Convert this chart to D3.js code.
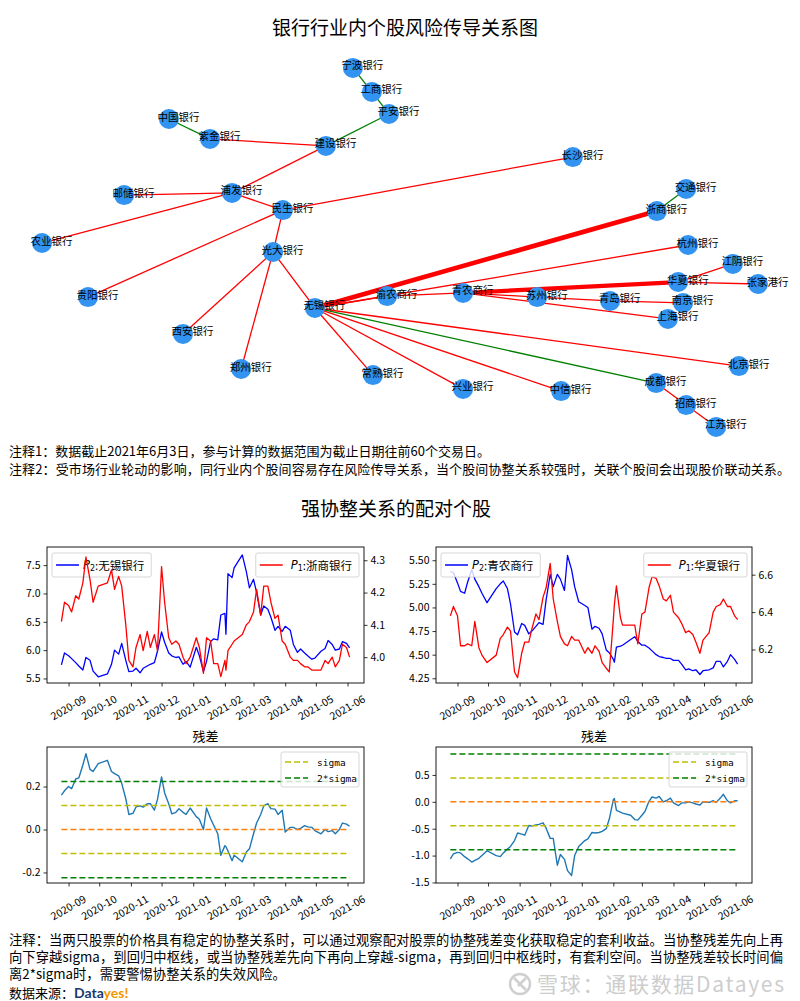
<!DOCTYPE html>
<html>
<head>
<meta charset="utf-8">
<script src="https://cdn.jsdelivr.net/npm/d3@7"></script>
<style>
body { margin: 0; background: #fff; }
svg text { font-family: "Noto Sans CJK SC", "Noto Sans", sans-serif; }
</style>
</head>
<body>
<svg id="chart" width="800" height="1001"></svg>
<script>
// ---- network data (layout coordinates, spring-layout style in [-1,1]) ----
const nodeNames = ["宁波银行","工商银行","平安银行","中国银行","紫金银行","建设银行","邮储银行","浦发银行","民生银行","农业银行",
  "光大银行","贵阳银行","无锡银行","西安银行","郑州银行","常熟银行","渝农商行","长沙银行","交通银行","浙商银行",
  "杭州银行","江阴银行","华夏银行","张家港行","青农商行","苏州银行","青岛银行","南京银行","上海银行","北京银行",
  "兴业银行","中信银行","成都银行","招商银行","江苏银行"];
const nodeX = [-0.124,-0.074,-0.029,-0.608,-0.500,-0.195,-0.726,-0.442,-0.308,-0.942,
  -0.334,-0.821,-0.224,-0.571,-0.418,-0.071,-0.034,0.455,0.753,0.676,
  0.758,0.876,0.732,0.942,0.166,0.361,0.553,0.745,0.705,0.892,
  0.166,0.424,0.674,0.753,0.832];
const nodeY = [0.908,0.785,0.672,0.646,0.544,0.508,0.256,0.267,0.179,0.010,
  -0.036,-0.267,-0.323,-0.456,-0.636,-0.667,-0.262,0.451,0.287,0.174,
  0.000,-0.097,-0.190,-0.200,-0.246,-0.267,-0.287,-0.297,-0.379,-0.621,
  -0.738,-0.749,-0.708,-0.821,-0.933];
// [from, to, type (1 red / 2 green), weight]
const edges = [
  ["宁波银行","工商银行",2,1],["工商银行","平安银行",2,1],["平安银行","建设银行",2,1],["中国银行","紫金银行",2,1],
  ["紫金银行","建设银行",1,1],["建设银行","浦发银行",1,1],["邮储银行","浦发银行",1,1],["浦发银行","农业银行",1,1],
  ["浦发银行","民生银行",1,1],["民生银行","长沙银行",1,1],["民生银行","贵阳银行",1,1],["民生银行","光大银行",1,1],
  ["光大银行","西安银行",1,1],["光大银行","郑州银行",1,1],["光大银行","无锡银行",1,1],["无锡银行","浙商银行",1,3.6],
  ["浙商银行","交通银行",2,1],["无锡银行","杭州银行",1,1],["无锡银行","渝农商行",1,1],["渝农商行","青农商行",1,1],
  ["青农商行","华夏银行",1,3.2],["华夏银行","江阴银行",1,1],["华夏银行","张家港行",1,1],["青农商行","苏州银行",1,1],
  ["苏州银行","青岛银行",1,1],["青岛银行","南京银行",1,1],["青农商行","上海银行",1,1],["无锡银行","北京银行",1,1],
  ["无锡银行","成都银行",2,1],["无锡银行","中信银行",1,1],["无锡银行","兴业银行",1,1],["无锡银行","常熟银行",1,1],
  ["成都银行","招商银行",1,1],["招商银行","江苏银行",1,1]
];

// ---- time series data ----
const dates = ["2020-08-25","2020-08-28","2020-09-01","2020-09-04","2020-09-08","2020-09-11","2020-09-15","2020-09-18","2020-09-22","2020-09-25","2020-09-30",
  "2020-10-09","2020-10-13","2020-10-16","2020-10-20","2020-10-23","2020-10-27","2020-10-30",
  "2020-11-03","2020-11-06","2020-11-10","2020-11-13","2020-11-17","2020-11-20","2020-11-24","2020-11-27",
  "2020-12-01","2020-12-04","2020-12-08","2020-12-11","2020-12-15","2020-12-18","2020-12-22","2020-12-25","2020-12-29",
  "2021-01-04","2021-01-07","2021-01-11","2021-01-14","2021-01-18","2021-01-21","2021-01-25","2021-01-28",
  "2021-02-01","2021-02-02","2021-02-04","2021-02-08","2021-02-10","2021-02-18","2021-02-22","2021-02-25",
  "2021-03-01","2021-03-04","2021-03-08","2021-03-11","2021-03-15","2021-03-18","2021-03-22","2021-03-25","2021-03-29",
  "2021-04-01","2021-04-06","2021-04-09","2021-04-13","2021-04-16","2021-04-20","2021-04-23","2021-04-27","2021-04-30",
  "2021-05-06","2021-05-10","2021-05-13","2021-05-17","2021-05-20","2021-05-24","2021-05-27","2021-05-31","2021-06-03"];
const monthTicks = ["2020-09","2020-10","2020-11","2020-12","2021-01","2021-02","2021-03","2021-04","2021-05","2021-06"];

const wuxi = [5.74,5.95,5.90,5.85,5.78,5.72,5.65,5.87,5.82,5.63,5.53,
  5.58,5.75,6.00,5.93,6.12,5.82,5.62,
  5.63,5.68,5.60,5.68,5.72,5.75,5.78,5.98,
  6.32,6.14,5.95,5.90,5.87,5.88,5.75,5.80,5.70,
  6.05,5.90,5.62,5.80,6.15,6.20,6.18,6.62,
  6.65,6.28,7.35,7.28,7.45,7.68,7.38,7.10,
  7.25,7.02,6.62,6.78,6.72,6.58,6.35,6.42,6.33,
  6.42,6.35,6.10,5.96,6.02,5.95,5.90,5.84,5.86,
  5.98,6.03,6.17,6.10,6.00,6.02,6.15,6.12,6.04];
const zheshang = [4.11,4.17,4.16,4.14,4.19,4.18,4.23,4.31,4.24,4.17,4.22,
  4.23,4.27,4.21,4.25,4.22,4.10,3.99,
  3.97,4.03,4.07,4.02,4.08,4.03,4.07,4.02,
  4.28,4.17,4.06,4.04,4.05,4.04,4.00,3.98,4.00,
  4.06,4.03,3.95,4.06,4.05,3.98,3.98,3.94,
  3.99,3.96,4.02,4.04,4.05,4.07,4.10,4.11,
  4.14,4.21,4.13,4.22,4.22,4.17,4.12,4.13,4.05,
  4.04,4.00,3.99,3.99,3.98,3.97,3.97,3.96,3.96,
  3.96,3.99,3.98,4.00,3.97,3.99,4.04,4.03,4.00];
const qingnong = [5.38,5.37,5.26,5.17,5.15,5.27,5.40,5.30,5.22,5.15,5.05,
  5.20,5.25,5.28,5.20,5.04,4.74,4.71,
  4.83,4.81,4.72,4.75,4.80,4.84,4.82,5.08,
  5.35,5.22,5.35,5.30,5.18,5.55,5.40,5.22,5.06,
  5.02,5.00,4.77,4.80,4.78,4.72,4.55,4.52,
  4.45,4.42,4.58,4.59,4.60,4.66,4.69,4.64,
  4.60,4.60,4.57,4.54,4.50,4.48,4.47,4.46,4.46,
  4.44,4.44,4.40,4.34,4.35,4.33,4.34,4.29,4.33,
  4.34,4.36,4.43,4.43,4.37,4.43,4.50,4.45,4.40];
const huaxia = [6.38,6.43,6.38,6.22,6.22,6.23,6.22,6.35,6.21,6.17,6.13,
  6.17,6.26,6.28,6.32,6.30,6.08,6.05,
  6.18,6.24,6.24,6.31,6.39,6.36,6.48,6.53,
  6.66,6.47,6.35,6.27,6.23,6.22,6.27,6.25,6.25,
  6.18,6.21,6.18,6.22,6.19,6.13,6.10,6.08,
  6.36,6.44,6.54,6.37,6.33,6.33,6.33,6.23,
  6.39,6.40,6.53,6.59,6.58,6.54,6.47,6.46,6.49,
  6.40,6.37,6.34,6.29,6.30,6.28,6.24,6.18,6.25,
  6.29,6.40,6.43,6.44,6.47,6.43,6.43,6.38,6.36];
const resid1 = [0.16,0.18,0.20,0.19,0.235,0.24,0.30,0.353,0.28,0.27,0.307,
  0.322,0.27,0.26,0.25,0.215,0.143,0.07,
  0.075,0.105,0.11,0.104,0.12,0.12,0.09,0.14,
  0.245,0.17,0.12,0.073,0.08,0.097,0.08,0.07,0.10,
  0.06,0.048,0.0,0.10,0.05,0.02,-0.02,-0.12,
  -0.075,-0.08,-0.10,-0.145,-0.12,-0.15,-0.105,-0.09,
  -0.02,0.03,0.07,0.11,0.12,0.097,0.095,0.07,0.09,
  -0.012,0.01,0.01,0.0,0.005,0.018,0.012,0.01,-0.005,
  -0.02,0.0,-0.01,-0.005,-0.02,0.0,0.03,0.025,0.015];
const resid2 = [-1.06,-0.97,-0.94,-0.95,-1.02,-1.06,-1.12,-1.09,-1.05,-1.00,-0.91,
  -1.00,-1.02,-0.95,-0.88,-0.83,-0.72,-0.58,
  -0.60,-0.62,-0.44,-0.45,-0.43,-0.42,-0.39,-0.49,
  -0.68,-0.68,-1.18,-0.98,-1.07,-1.28,-1.37,-1.00,-0.83,
  -0.72,-0.69,-0.57,-0.58,-0.57,-0.55,-0.50,-0.32,
  0.04,0.06,-0.16,-0.19,-0.21,-0.25,-0.33,-0.34,
  -0.25,-0.18,0.01,0.09,0.07,0.10,0.00,0.02,0.07,
  -0.02,-0.07,-0.02,-0.02,0.00,-0.02,-0.04,-0.06,0.00,
  -0.01,0.02,-0.01,0.07,0.14,0.02,-0.02,0.02,0.02];
const sigma1 = 0.112;
const sigma2 = 0.445;

const CJK = '"Noto Sans CJK SC", "Noto Sans", sans-serif';
const svg = d3.select("#chart");

// ---------- titles and notes ----------
svg.append("text").attr("x", 405).attr("y", 35).attr("text-anchor", "middle")
  .style("font-size", "19px").text("银行行业内个股风险传导关系图");
svg.append("text").attr("x", 9).attr("y", 456).style("font-size", "13px")
  .text("注释1：数据截止2021年6月3日，参与计算的数据范围为截止日期往前60个交易日。");
svg.append("text").attr("x", 9).attr("y", 474).style("font-size", "13px")
  .attr("textLength", 781).attr("lengthAdjust", "spacing")
  .text("注释2：受市场行业轮动的影响，同行业内个股间容易存在风险传导关系，当个股间协整关系较强时，关联个股间会出现股价联动关系。");
svg.append("text").attr("x", 396).attr("y", 516).attr("text-anchor", "middle")
  .style("font-size", "19px").text("强协整关系的配对个股");

// ---------- network ----------
const nx = d3.scaleLinear().domain([-1, 1]).range([20, 780]);
const ny = d3.scaleLinear().domain([-1, 1]).range([440, 50]);
const edgeColor = d3.scaleOrdinal().domain([1, 2]).range(["#ff0000", "#008000"]);
const edgeWidth = d3.scaleLinear().domain([1, 4]).range([1.3, 5.2]);
const pos = new Map(nodeNames.map((n, i) => [n, [nx(nodeX[i]), ny(nodeY[i])]]));

const net = svg.append("g");
net.selectAll("line").data(edges).join("line")
  .attr("x1", d => pos.get(d[0])[0]).attr("y1", d => pos.get(d[0])[1])
  .attr("x2", d => pos.get(d[1])[0]).attr("y2", d => pos.get(d[1])[1])
  .attr("stroke", d => edgeColor(d[2])).attr("stroke-width", d => edgeWidth(d[3]));
net.selectAll("circle").data(nodeNames).join("circle")
  .attr("cx", d => pos.get(d)[0]).attr("cy", d => pos.get(d)[1]).attr("r", 10)
  .attr("fill", "#3393f0");
net.selectAll("text").data(nodeNames).join("text")
  .attr("x", d => pos.get(d)[0] + 9.5).attr("y", d => pos.get(d)[1] - 3)
  .attr("text-anchor", "middle").attr("dominant-baseline", "central")
  .style("font-size", "10.5px").attr("fill", "#000").text(d => d);

// ---------- shared time scale bits ----------
const T = dates.map(d3.timeParse("%Y-%m-%d"));
const tPad = (T[T.length - 1] - T[0]) * 0.05;
const xDomain = [new Date(+T[0] - tPad), new Date(+T[T.length - 1] + tPad)];
const monthDates = monthTicks.map(d3.timeParse("%Y-%m"));

function styleAxis(sel) {
  sel.select(".domain").remove();
  sel.selectAll(".tick line").attr("stroke", "#000").attr("stroke-width", 0.8);
  sel.selectAll(".tick text").attr("fill", "#000").style("font-family", CJK).style("font-size", "10.5px");
}

function xAxis(g, x, y1) {
  const ax = g.append("g").attr("transform", `translate(0,${y1})`)
    .call(d3.axisBottom(x).tickValues(monthDates).tickFormat((d, i) => monthTicks[i]).tickSize(3.5))
    .call(styleAxis);
  ax.selectAll(".tick text").attr("y", 0).attr("dy", null)
    .attr("transform", "translate(-1,24) rotate(-30)")
    .attr("text-anchor", "middle").attr("dominant-baseline", "central");
}

function frame(g, p) {
  g.append("rect").attr("x", p.x0).attr("y", p.y0).attr("width", p.x1 - p.x0).attr("height", p.y1 - p.y0)
    .attr("fill", "none").attr("stroke", "#000").attr("stroke-width", 0.9);
}

function priceLegend(g, p, color, sub, name, right) {
  const lg = g.append("g");
  const box = lg.append("rect").attr("y", p.y0 + 6).attr("height", 24).attr("rx", 2)
    .attr("fill", "#fff").attr("fill-opacity", 0.8).attr("stroke", "#cccccc").attr("stroke-width", 0.8);
  const dx = right ? 35 : 31;
  lg.append("line").attr("x1", 4).attr("x2", 27).attr("y1", p.y0 + 18).attr("y2", p.y0 + 18)
    .attr("stroke", color).attr("stroke-width", 1.5);
  const t = lg.append("text").attr("x", dx).attr("y", p.y0 + 18).attr("dominant-baseline", "central")
    .style("font-size", "11.5px");
  t.append("tspan").style("font-family", '"DejaVu Sans", sans-serif').style("font-style", "italic").text("P");
  t.append("tspan").attr("dy", 3).style("font-family", '"DejaVu Sans", sans-serif').style("font-size", "8px").text(sub);
  t.append("tspan").attr("dy", -3).text(":" + name);
  const w = dx + t.node().getComputedTextLength() + 7;
  box.attr("x", 0).attr("width", w);
  lg.attr("transform", `translate(${right ? p.x1 - 5 - w : p.x0 + 5},0)`);
}

function pricePanel(p) {
  const g = svg.append("g");
  const x = d3.scaleTime().domain(xDomain).range([p.x0, p.x1]);
  const yL = d3.scaleLinear().domain(p.domL).range([p.y1, p.y0]);
  const yR = d3.scaleLinear().domain(p.domR).range([p.y1, p.y0]);
  g.append("path").datum(p.valsL).attr("fill", "none").attr("stroke", "#0000ff").attr("stroke-width", 1.3)
    .attr("stroke-linejoin", "round")
    .attr("d", d3.line().x((d, i) => x(T[i])).y(d => yL(d)));
  priceLegend(g, p, "#0000ff", "2", p.nameL, false);
  g.append("path").datum(p.valsR).attr("fill", "none").attr("stroke", "#ff0000").attr("stroke-width", 1.3)
    .attr("stroke-linejoin", "round")
    .attr("d", d3.line().x((d, i) => x(T[i])).y(d => yR(d)));
  priceLegend(g, p, "#ff0000", "1", p.nameR, true);
  g.append("g").attr("transform", `translate(${p.x0},0)`)
    .call(d3.axisLeft(yL).tickValues(p.ticksL).tickFormat(d => d.toFixed(p.decL)).tickSize(3.5).tickPadding(3))
    .call(styleAxis);
  g.append("g").attr("transform", `translate(${p.x1},0)`)
    .call(d3.axisRight(yR).tickValues(p.ticksR).tickFormat(d => d.toFixed(1)).tickSize(3.5).tickPadding(3))
    .call(styleAxis);
  xAxis(g, x, p.y1);
  frame(g, p);
}

function residPanel(p) {
  const g = svg.append("g");
  const x = d3.scaleTime().domain(xDomain).range([p.x0, p.x1]);
  const y = d3.scaleLinear().domain(p.dom).range([p.y1, p.y0]);
  g.append("text").attr("x", (p.x0 + p.x1) / 2).attr("y", p.y0 - 6).attr("text-anchor", "middle")
    .style("font-size", "13px").text("残差");
  g.append("path").datum(p.vals).attr("fill", "none").attr("stroke", "#1f77b4").attr("stroke-width", 1.4)
    .attr("stroke-linejoin", "round")
    .attr("d", d3.line().x((d, i) => x(T[i])).y(d => y(d)));
  const levels = [
    { v: 0, c: "#ff7f0e" },
    { v: p.sigma, c: "#bfbf00" }, { v: -p.sigma, c: "#bfbf00" },
    { v: 2 * p.sigma, c: "#008000" }, { v: -2 * p.sigma, c: "#008000" }
  ];
  g.selectAll("line.lv").data(levels).join("line").attr("class", "lv")
    .attr("x1", x(T[0])).attr("x2", x(T[T.length - 1]))
    .attr("y1", d => y(d.v)).attr("y2", d => y(d.v))
    .attr("stroke", d => d.c).attr("stroke-width", 1.5).attr("stroke-dasharray", "6,3");
  // legend
  const bw = 78, bx = p.x1 - 5 - bw, by = p.y0 + 5;
  g.append("rect").attr("x", bx).attr("y", by).attr("width", bw).attr("height", 35).attr("rx", 2)
    .attr("fill", "#fff").attr("fill-opacity", 0.8).attr("stroke", "#cccccc").attr("stroke-width", 0.8);
  [["sigma", "#bfbf00"], ["2*sigma", "#008000"]].forEach((e, i) => {
    const cy = by + 10 + i * 16;
    g.append("line").attr("x1", bx + 4).attr("x2", bx + 27).attr("y1", cy).attr("y2", cy)
      .attr("stroke", e[1]).attr("stroke-width", 1.5).attr("stroke-dasharray", "6,3");
    g.append("text").attr("x", bx + 36).attr("y", cy).attr("dominant-baseline", "central")
      .style("font-family", '"DejaVu Sans Mono", monospace').style("font-size", "9.5px").text(e[0]);
  });
  g.append("g").attr("transform", `translate(${p.x0},0)`)
    .call(d3.axisLeft(y).tickValues(p.ticks).tickFormat(d => d.toFixed(1)).tickSize(3.5).tickPadding(3))
    .call(styleAxis);
  xAxis(g, x, p.y1);
  frame(g, p);
}

pricePanel({ x0: 47, x1: 364, y0: 547, y1: 683, valsL: wuxi, valsR: zheshang,
  domL: [5.42, 7.82], domR: [3.92, 4.341], ticksL: [5.5, 6.0, 6.5, 7.0, 7.5], decL: 1,
  ticksR: [4.0, 4.1, 4.2, 4.3], nameL: "无锡银行", nameR: "浙商银行" });
pricePanel({ x0: 436, x1: 752, y0: 547, y1: 683, valsL: qingnong, valsR: huaxia,
  domL: [4.20, 5.64], domR: [6.021, 6.748], ticksL: [4.25, 4.50, 4.75, 5.00, 5.25, 5.50], decL: 2,
  ticksR: [6.2, 6.4, 6.6], nameL: "青农商行", nameR: "华夏银行" });
residPanel({ x0: 47, x1: 364, y0: 747, y1: 883, vals: resid1, sigma: sigma1,
  dom: [-0.249, 0.384], ticks: [-0.2, 0.0, 0.2] });
residPanel({ x0: 436, x1: 752, y0: 747, y1: 883, vals: resid2, sigma: sigma2,
  dom: [-1.51, 1.02], ticks: [-1.5, -1.0, -0.5, 0.0, 0.5] });

// ---------- bottom notes ----------
const noteLines = [
  "注释：当两只股票的价格具有稳定的协整关系时，可以通过观察配对股票的协整残差变化获取稳定的套利收益。当协整残差先向上再",
  "向下穿越sigma，到回归中枢线，或当协整残差先向下再向上穿越-sigma，再到回归中枢线时，有套利空间。当协整残差较长时间偏",
  "离2*sigma时，需要警惕协整关系的失效风险。"
];
noteLines.forEach((s, i) => {
  const t = svg.append("text").attr("x", 9).attr("y", 945 + i * 17).style("font-size", "13.3px").text(s);
  if (i < 2) t.attr("textLength", 774).attr("lengthAdjust", "spacing");
});

// watermark
const wm = svg.append("g");
wm.append("circle").attr("cx", 520).attr("cy", 984).attr("r", 10)
  .attr("fill", "none").attr("stroke", "#cfcfcf").attr("stroke-width", 2.5);
wm.append("path").attr("d", "M514,978 L526,990 M526,978 L518,986")
  .attr("stroke", "#cfcfcf").attr("stroke-width", 2.5).attr("fill", "none");
wm.append("text").attr("x", 537).attr("y", 992).style("font-size", "21px").attr("fill", "#cdcdcd")
  .attr("textLength", 247).attr("lengthAdjust", "spacing")
  .text("雪球：通联数据Datayes");

const src = svg.append("text").attr("x", 9).attr("y", 998).style("font-size", "13px");
src.append("tspan").text("数据来源：");
src.append("tspan").style("font-family", "Lato, Roboto, sans-serif").style("font-weight", "bold")
  .style("font-size", "14px").attr("fill", "#1b3a6e").text("Data");
src.append("tspan").style("font-family", "Lato, Roboto, sans-serif").style("font-weight", "bold")
  .style("font-size", "14px").attr("fill", "#f39800").text("yes!");
</script>
</body>
</html>
